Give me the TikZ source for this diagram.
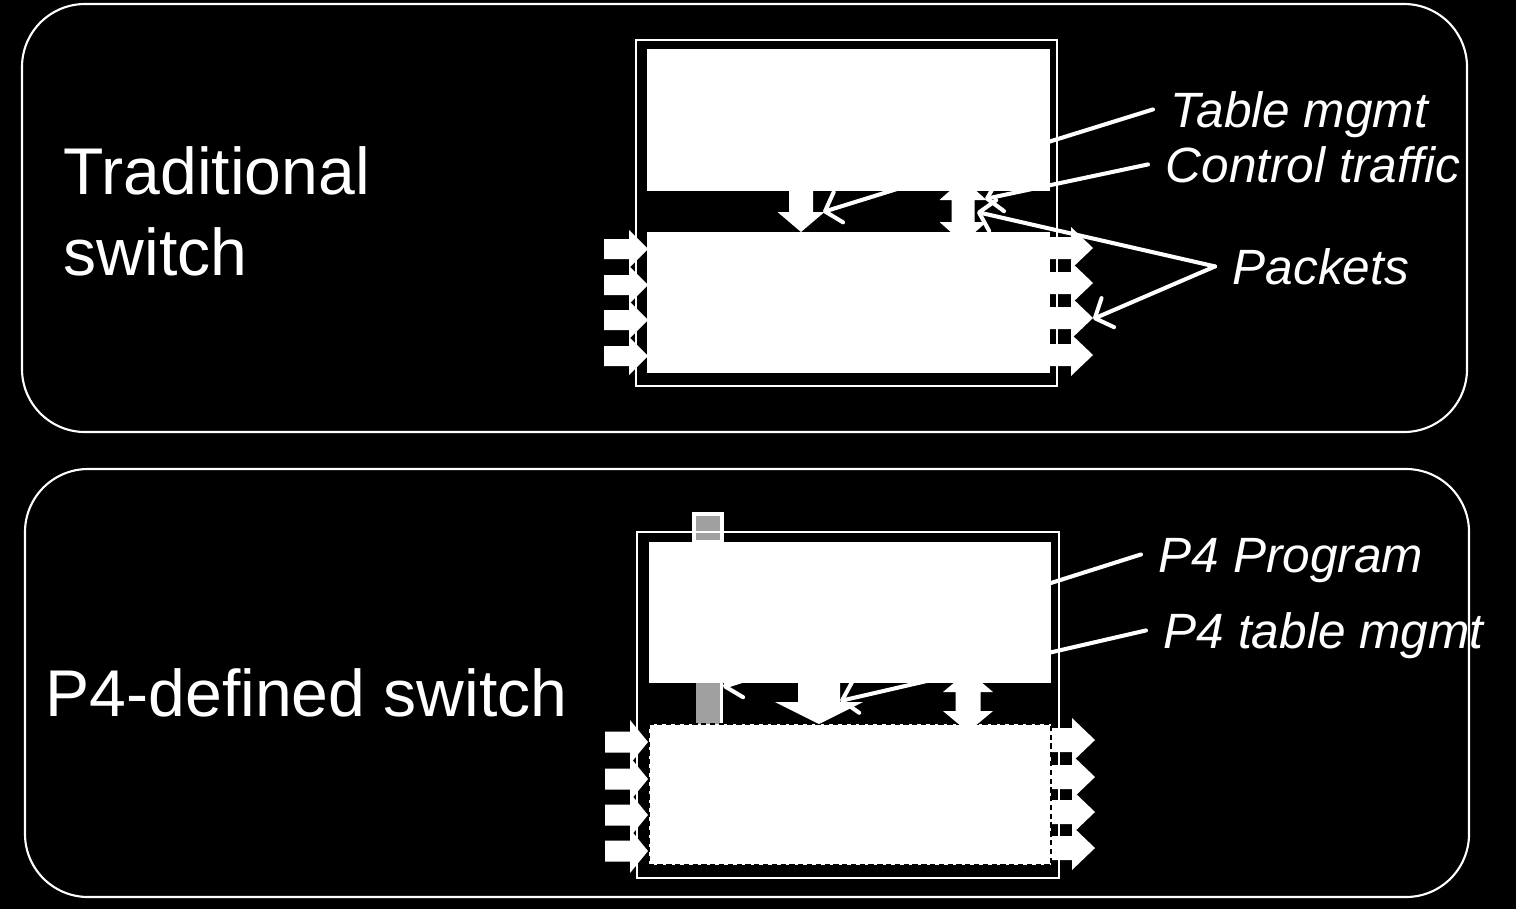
\documentclass[tikz,border=0pt]{standalone}
\usepackage{fontspec}
\setmainfont{Liberation Sans}
\usetikzlibrary{arrows.meta}
\definecolor{progbar}{HTML}{A0A0A0}
% block arrows, coordinates in pixels
\def\blockright(#1,#2)(#3:#4:#5:#6){\fill[white] (#1,#2-#4) -- (#3-#6,#2-#4) -- (#3-#6,#2-#5) -- (#3,#2) -- (#3-#6,#2+#5) -- (#3-#6,#2+#4) -- (#1,#2+#4) -- cycle;}
\def\blockdown(#1,#2)(#3:#4:#5:#6){\fill[white] (#1-#4,#2) -- (#1-#4,#3-#6) -- (#1-#5,#3-#6) -- (#1,#3) -- (#1+#5,#3-#6) -- (#1+#4,#3-#6) -- (#1+#4,#2) -- cycle;}
\def\blockupdown(#1,#2)(#3:#4:#5:#6){\fill[white] (#1,#2) -- (#1+#5,#2+#6) -- (#1+#4,#2+#6) -- (#1+#4,#3-#6) -- (#1+#5,#3-#6) -- (#1,#3) -- (#1-#5,#3-#6) -- (#1-#4,#3-#6) -- (#1-#4,#2+#6) -- (#1-#5,#2+#6) -- cycle;}
\tikzset{
  panel/.style={draw=white, line width=0.6pt, rounded corners=0.63cm},
  swframe/.style={draw=white, line width=0.5pt},
  title/.style={text=white, font=\fontsize{18.8}{23}\selectfont, align=left, inner sep=0pt},
  callout/.style={text=white, font=\fontsize{14.1}{16}\selectfont\itshape, inner xsep=0.17cm, inner ysep=0pt, text height=10pt, text depth=0pt},
  conn/.style={draw=white, line width=1.15pt, line cap=round, -{Straight Barb[length=4pt,width=9pt,round]}}
}

\begin{document}
\begin{tikzpicture}[x=0.01cm, y=-0.01cm]
		%%%%% START %%%%%
		\useasboundingbox (0,0) rectangle (1516,909);
		\fill[black] (0,0) rectangle (1516,909);
		
		\draw[panel] (22,4) rectangle (1467,432);
		\draw[panel] (25,469) rectangle (1469,897);
		
		\node[title, anchor=base west] (trad) at (63,275) {Traditional\\switch};
		\node[title, anchor=base west] (pfour) at (45,716) {P4-defined switch};
		
		%%%%% traditional switch %%%%%
		\node[callout, anchor=base west] (tblmgmt) at (1153,127) {Table mgmt};
		\node[callout, anchor=base west] (ctrl) at (1148,182) {Control traffic};
		\node[callout, anchor=base west] (pkts) at (1215,284) {Packets};
		
		\coordinate (tblTip) at (823,212);
		\coordinate (ctrlTip) at (985,199);
		\coordinate (pktTipA) at (977,212);
		\coordinate (pktTipB) at (1093,319);
		
		\draw[conn] (tblmgmt.west) -- (tblTip);
		\draw[conn] (ctrl.west) -- (ctrlTip);
		\draw[conn] (pkts.west) -- (pktTipA);
		\draw[conn] (pkts.west) -- (pktTipB);
		
		\blockdown(801,185)(232:12:23.5:20)
		\blockupdown(963,179)(243:11.5:23.5:21)
		\foreach \y in {249,285,320,356} {\blockright(604,\y)(648:10:19:19)}
		\foreach \y in {248,283,318,355} {\blockright(1048,\y)(1093:11:21:22)}
		
		\fill[white] (647,49) rectangle (1050,191);
		\fill[white] (647,232) rectangle (1050,373);
		\draw[swframe] (636,40) rectangle (1057,386);
		
		%%%%% P4 switch %%%%%
		\node[callout, anchor=base west] (prog) at (1141,572) {P4 Program};
		\node[callout, anchor=base west] (ptbl) at (1146,648) {P4 table mgmt};
		
		\coordinate (progTip) at (723,687);
		\coordinate (ptblTip) at (840,701);
		
		\fill[progbar] (696,515) rectangle (720,724);
		\draw[white, line width=1.1pt] (694,514) rectangle (722,542);
		\draw[white, line width=1.1pt] (721.5,683) -- (721.5,724);
		
		\draw[conn] (prog.west) -- (progTip);
		\draw[conn] (ptbl.west) -- (ptblTip);
		
		\fill[white] (649,542) rectangle (1051,683);
		\foreach \y in {742,779,815,851} {\blockright(605,\y)(648:10.5:22:18)}
		\foreach \y in {740,777,812,848} {\blockright(1049,\y)(1095:12:22:23)}
		\draw[black, fill=white, line width=0.6pt, dash pattern=on 1.5pt off 1pt] (649,724) rectangle (1051,865);
		\blockdown(819,683)(724:21:44:22)
		\blockupdown(968,671)(732:12.5:25:21)
		\draw[swframe] (637,532) rectangle (1059,878);
		
		%%%%% END %%%%%
\end{tikzpicture}
\end{document}
